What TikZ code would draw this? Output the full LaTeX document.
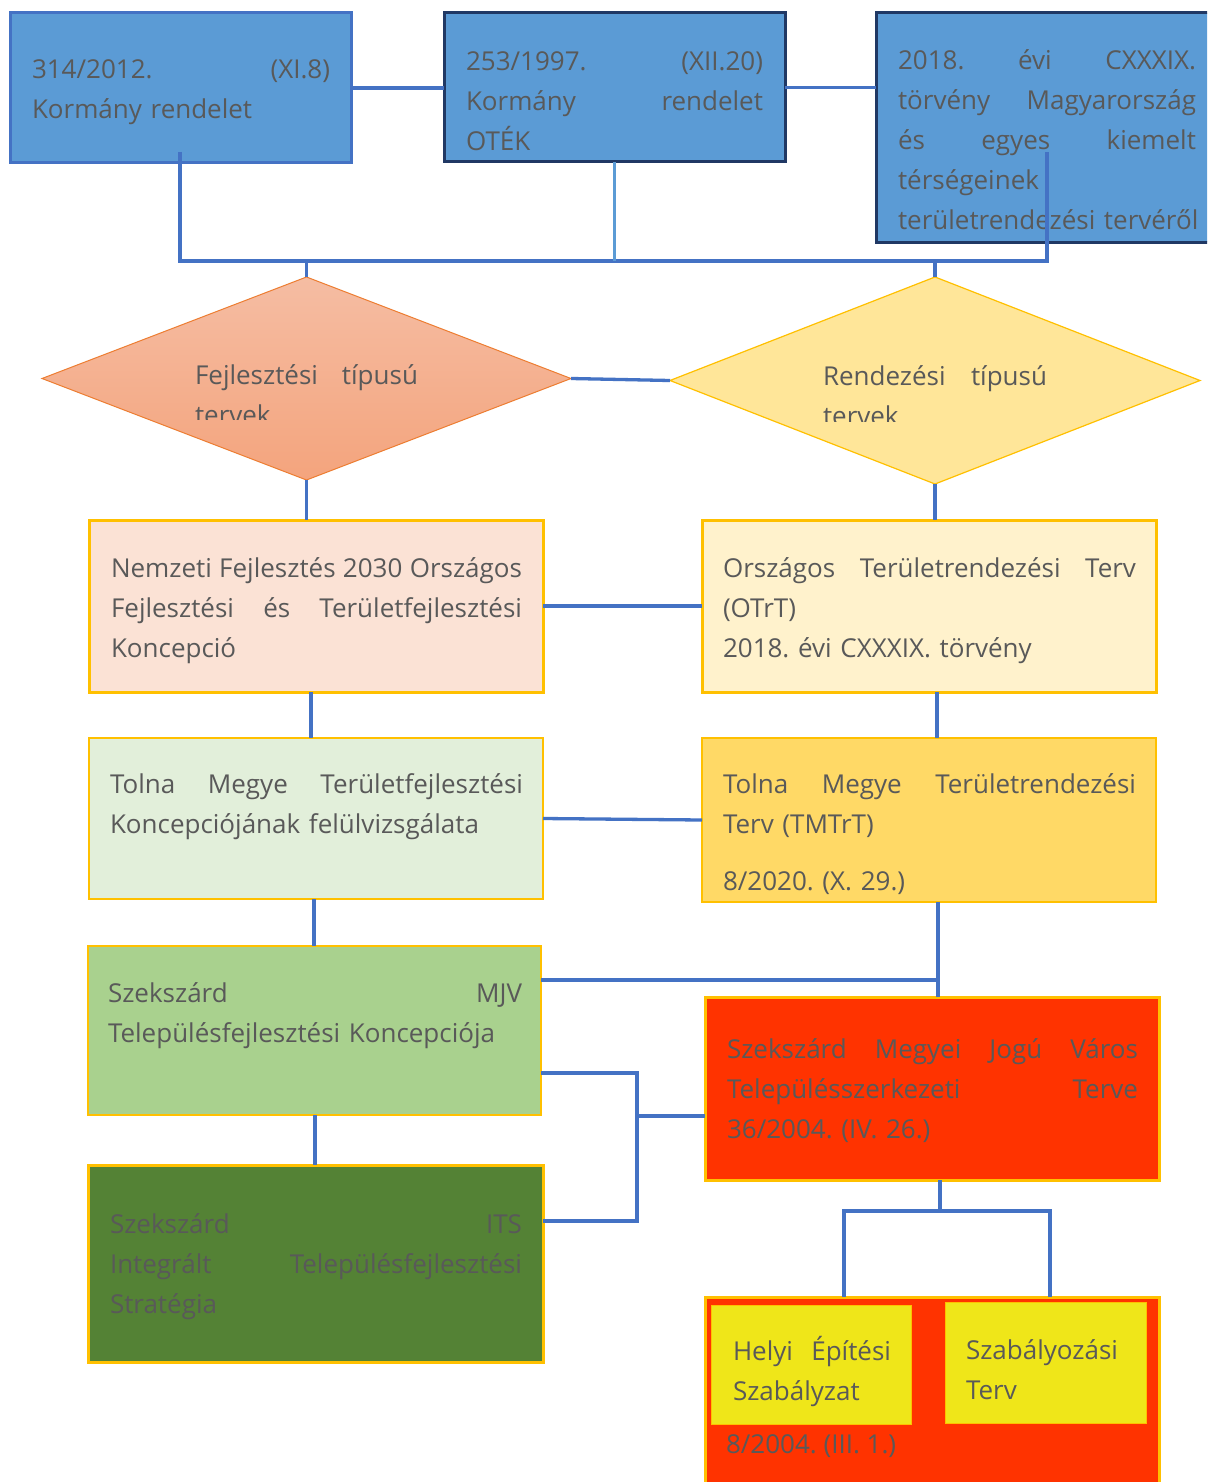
\documentclass[tikz,border=0pt]{standalone}
\usepackage{fontspec}
\setmainfont{Open Sans}
\usetikzlibrary{shapes.geometric,calc}
\definecolor{topfill}{HTML}{5B9BD5}
\definecolor{connblue}{HTML}{4472C4}
\definecolor{navy}{HTML}{203864}
\definecolor{txtgray}{HTML}{595959}
\definecolor{gold}{HTML}{FFC000}
\definecolor{orline}{HTML}{ED7D31}
\definecolor{ortop}{HTML}{F5BDA3}
\definecolor{orbot}{HTML}{F4A47D}
\definecolor{yelfill}{HTML}{FFE699}
\definecolor{peach}{HTML}{FBE2D5}
\definecolor{cream}{HTML}{FFF2CC}
\definecolor{palegreen}{HTML}{E2EFDA}
\definecolor{goldfill}{HTML}{FFD966}
\definecolor{midgreen}{HTML}{A9D18E}
\definecolor{darkgreen}{HTML}{548235}
\definecolor{redfill}{HTML}{FF3300}
\definecolor{lemon}{HTML}{EFE619}
\frenchspacing
\hyphenpenalty=10000
\exhyphenpenalty=10000
\begin{document}
\begin{tikzpicture}[x=1pt,y=-1pt,
  box/.style={draw=gold, line width=3pt, anchor=north west, inner sep=0pt, outer sep=0pt},
  txt/.style={anchor=base west, inner sep=0pt, outer sep=0pt, text=txtgray, align=left, font=\fontsize{26}{40}\selectfont},
  conn/.style={draw=connblue, line width=3.3pt}]
\useasboundingbox (0,0) rectangle (1207,1482);
\clip (0,0) rectangle (1207,1482);
\fill[white] (0,0) rectangle (1207,1482);

% top boxes
\node[box, draw=connblue, fill=topfill, minimum width=341pt, minimum height=150pt] (A) at (10,13) {};
\node[box, draw=navy, fill=topfill, minimum width=341pt, minimum height=149pt] (B) at (444,13) {};
\node[box, draw=navy, fill=topfill, minimum width=345pt, minimum height=229pt] (C) at (876,13) {};

% diamonds
\node[diamond, draw=orline, line width=1pt, top color=ortop, bottom color=orbot, minimum width=529pt, minimum height=203pt, inner sep=0pt, outer sep=0pt] (DL) at (306.5,378.5) {};
\node[diamond, draw=gold, line width=1.2pt, fill=yelfill, minimum width=530pt, minimum height=207pt, inner sep=0pt, outer sep=0pt] (DR) at (935,380.5) {};

% boxes
\node[box, fill=peach, minimum width=454pt, minimum height=172pt] (D) at (89,520) {};
\node[box, fill=cream, minimum width=454pt, minimum height=172pt] (E) at (702,520) {};
\node[box, fill=palegreen, line width=1.5pt, minimum width=454pt, minimum height=161pt] (F) at (89,738) {};
\node[box, fill=goldfill, line width=2pt, minimum width=454pt, minimum height=164pt] (G) at (702,738) {};
\node[box, fill=midgreen, line width=2pt, minimum width=453pt, minimum height=169pt] (H) at (88,946) {};
\node[box, fill=darkgreen, minimum width=455pt, minimum height=197pt] (J) at (88,1165) {};
\node[box, fill=redfill, minimum width=454pt, minimum height=183pt] (I) at (705,997) {};
\node[box, fill=redfill, minimum width=454pt, minimum height=200pt] (K) at (705,1297) {};
\node[box, fill=lemon, line width=1pt, minimum width=200pt, minimum height=119pt] (L) at (711,1305) {};
\node[box, fill=lemon, line width=1pt, minimum width=201pt, minimum height=121pt] (M) at (945,1302) {};

% texts
\node[txt, text width=298pt] (At) at (32,79) {314/2012.\hfill(XI.8)\\Kormány rendelet};
\node[txt, text width=297pt] (Bt) at (466,71) {253/1997.\hfill(XII.20)\\Kormány\hfill rendelet\\OTÉK};
\node[txt, text width=298pt] (Ct) at (898,70) {2018.\hfill évi\hfill CXXXIX.\\törvény\hfill Magyarország\\és\hfill egyes\hfill kiemelt\\térségeinek\\\mbox{területrendezési tervéről}};
\begin{scope}
\clip (185,330) rectangle (440,419);
\node[txt, text width=223pt] (DLt) at (195,384) {Fejlesztési\hfill típusú\\tervek};
\end{scope}
\begin{scope}
\clip (810,330) rectangle (1070,421);
\node[txt, text width=224pt] (DRt) at (823,385) {Rendezési\hfill típusú\\tervek};
\end{scope}
\node[txt, text width=411pt] (Dt) at (111,577) {Nemzeti\hfill Fejlesztés\hfill 2030\hfill Országos\\Fejlesztési\hfill és\hfill Területfejlesztési\\Koncepció};
\node[txt, text width=413pt] (Et) at (723,577) {Országos\hfill Területrendezési\hfill Terv\\(OTrT)\\2018. évi CXXXIX. törvény};
\node[txt, text width=413pt] (Ft) at (110,793) {Tolna\hfill Megye\hfill Területfejlesztési\\Koncepciójának felülvizsgálata};
\node[txt, text width=413pt] (Gt) at (723,793) {Tolna\hfill Megye\hfill Területrendezési\\Terv (TMTrT)\\[17pt]8/2020. (X. 29.)};
\node[txt, text width=414pt] (Ht) at (108,1002) {Szekszárd\hfill MJV\\Településfejlesztési Koncepciója};
\node[txt, text width=412pt] (Jt) at (110,1233) {Szekszárd\hfill ITS\\Integrált\hfill Településfejlesztési\\Stratégia};
\node[txt, text width=411pt] (It) at (727,1058) {Szekszárd\hfill Megyei\hfill Jogú\hfill Város\\Településszerkezeti\hfill Terve\\36/2004. (IV. 26.)};
\node[txt, text width=158pt] (Lt) at (733,1360) {Helyi\hfill Építési\\Szabályzat};
\node[txt, text width=170pt] (Mt) at (966,1359) {Szabályozási\\Terv};
\node[txt] (Kt) at (726,1453) {8/2004. (III. 1.)};

% connectors
\coordinate (a1) at (180,152);
\coordinate (c1) at (1047,152);
\coordinate (busL) at (180,261);
\coordinate (busR) at (1047,261);
\draw[conn] (A.east) -- (A.east -| B.west);
\draw[conn] (B.east) -- (B.east -| C.west);
\draw[conn] (a1) -- (busL) -- (busR) -- (c1);
\draw[conn, draw=topfill] (B.south) -- (B.south |- busL);
\draw[conn] (DL.north |- busL) -- (DL.north);
\draw[conn] (DR.north |- busL) -- (DR.north);
\draw[conn] (DL.east) -- (DR.west);
\draw[conn] (DL.south) -- (DL.south |- D.north);
\draw[conn] (DR.south) -- (DR.south |- E.north);
\draw[conn] (D.east) -- (E.west);
\coordinate (dF) at (311,692);
\draw[conn] (dF) -- (dF |- F.north);
\coordinate (eG) at (937,692);
\draw[conn] (eG) -- (eG |- G.north);
\draw[conn] (F.east) -- (G.west);
\coordinate (fH) at (314,899);
\draw[conn] (fH) -- (fH |- H.north);
\coordinate (gI) at (938,902);
\draw[conn] (gI) -- (gI |- I.north);
\draw[conn] (H.east |- 0,980) -- (gI |- 0,980);
\coordinate (hJ) at (315,1115);
\draw[conn] (hJ) -- (hJ |- J.north);
\coordinate (jx) at (637,1073);
\draw[conn] (H.east |- jx) -- (jx) -- (jx |- 0,1221) -- (J.east |- 0,1221);
\draw[conn] (jx |- 0,1116) -- (I.west |- 0,1116);
\coordinate (ib) at (940,1211);
\draw[conn] (ib |- I.south) -- (ib);
\coordinate (kl) at (844,1211);
\coordinate (kr) at (1050,1211);
\draw[conn] (kl |- K.north) -- (kl) -- (kr) -- (kr |- K.north);
\end{tikzpicture}
\end{document}
